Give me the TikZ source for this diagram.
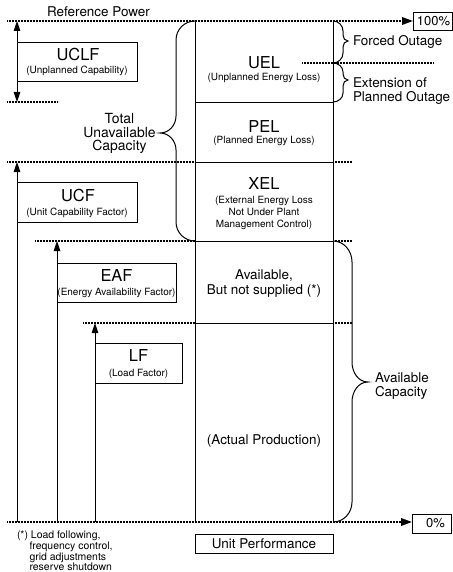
\documentclass[tikz,border=0pt]{standalone}
\usepackage{fontspec}
\setmainfont{TeX Gyre Heros}
\usetikzlibrary{arrows.meta}
\begin{document}
\begin{tikzpicture}[x=1bp,y=-1bp,
  every node/.style={inner sep=0pt, outer sep=0pt},
  rule/.style={line width=0.9bp},
  level/.style={line width=1.9bp, dash pattern=on 1bp off 0.5bp},
  uptip/.style={rule,-{Triangle[length=10bp,width=6.5bp]}},
  bothtips/.style={rule,{Triangle[length=10bp,width=6.5bp]}-{Triangle[length=10bp,width=6.5bp]}},
  endtip/.style={level,-{Triangle[length=11bp,width=7.5bp]}},
  bracket/.style={line width=1bp},
  frame/.style={draw, rule},
  bigT/.style={font=\fontsize{16.5}{18}\selectfont, anchor=base},
  midT/.style={font=\fontsize{13.5}{15}\selectfont, anchor=base},
  midW/.style={font=\fontsize{13.5}{15}\selectfont, anchor=base west},
  capT/.style={font=\fontsize{14}{15}\selectfont, anchor=base},
  smallT/.style={font=\fontsize{10}{12}\selectfont, anchor=base},
  noteT/.style={font=\fontsize{10.5}{12}\selectfont, anchor=base west},
]
\useasboundingbox (0,0) rectangle (453,572);

% ---- end boxes and scale arrows
\node[frame, minimum width=39bp, minimum height=18bp] (full-box) at (432.5,21) {};
\node[font=\fontsize{13}{15}\selectfont] (full) at (433.5,21) {100\%};
\node[frame, minimum width=39bp, minimum height=19bp] (zero-box) at (431.5,523.5) {};
\node[font=\fontsize{13}{15}\selectfont] (zero) at (435.5,523.5) {0\%};

\coordinate (top-l) at (7,21);
\coordinate (bot-l) at (7,522);
\draw[endtip] (top-l) -- (top-l -| full-box.west);
\draw[endtip] (bot-l) -- (bot-l -| zero-box.west);
\node[midT] (refpower) at (98.5,17) {Reference Power};

% ---- energy column
\coordinate (col-tl) at (195,21);
\coordinate (col-tr) at (333,21);
\coordinate (col-bl) at (195,522);
\coordinate (col-br) at (333,522);
\draw[rule] (col-tl) -- (col-bl);
\draw[rule] (col-tr) -- (col-br);

\coordinate (uel-l) at (195,102);  \coordinate (uel-r) at (333,102);
\coordinate (pel-l) at (195,162);  \coordinate (pel-r) at (333,162);
\coordinate (xel-l) at (195,241);  \coordinate (xel-r) at (333,241);
\coordinate (av-l)  at (195,323);  \coordinate (av-r)  at (333,323);
\draw[rule] (uel-l) -- (uel-r);
\draw[rule] (pel-l) -- (pel-r);
\draw[rule] (xel-l) -- (xel-r);
\draw[rule] (av-l) -- (av-r);

% level extensions
\coordinate (uclf-end) at (7,102);   \coordinate (uclf-stop) at (58,102);
\coordinate (ucf-end) at (7,162);
\coordinate (eaf-end) at (35,241);
\coordinate (lf-end) at (83,323);
\coordinate (pel-x) at (352,162);
\coordinate (xel-x) at (352,241);
\coordinate (av-x) at (352,323);
\coordinate (fo-a) at (302,63);  \coordinate (fo-b) at (433,63);
\draw[level] (uclf-end) -- (uclf-stop);
\draw[level] (ucf-end) -- (pel-l);
\draw[level] (eaf-end) -- (xel-l);
\draw[level] (lf-end) -- (av-l);
\draw[level] (pel-r) -- (pel-x);
\draw[level] (xel-r) -- (xel-x);
\draw[level] (av-r) -- (av-x);
\draw[level] (fo-a) -- (fo-b);

% column texts
\node[bigT] (uel) at (264,68.5) {UEL};
\node[smallT] (uel-sub) at (264,80.5) {(Unplanned Energy Loss)};
\node[bigT] (pel) at (264,132.5) {PEL};
\node[smallT] (pel-sub) at (264,143.5) {(Planned Energy Loss)};
\node[bigT] (xel) at (264,189.5) {XEL};
\node[smallT] (xel-sub1) at (264,203) {(External Energy Loss};
\node[smallT] (xel-sub2) at (264,215) {Not Under Plant};
\node[smallT] (xel-sub3) at (264,227) {Management Control)};
\node[midT] (avail1) at (264,279) {Available,};
\node[midT] (avail2) at (264,294) {But not supplied (*)};
\node[midT] (actual) at (264,444.5) {(Actual Production)};
\node[frame, minimum width=138bp, minimum height=19bp,
      font=\fontsize{13.5}{15}\selectfont] (unitperf) at (264,543.5) {Unit Performance};

% ---- factor boxes
\node[frame, minimum width=120bp, minimum height=39bp] (uclf-box) at (77,61.5) {};
\node[bigT] (uclf) at (78,61) {UCLF};
\node[smallT] (uclf-sub) at (77,73.5) {(Unplanned Capability)};

\node[frame, minimum width=120bp, minimum height=40bp] (ucf-box) at (77,202) {};
\node[bigT] (ucf) at (78,201.5) {UCF};
\node[smallT] (ucf-sub) at (77,215) {(Unit Capability Factor)};

\node[frame, minimum width=119bp, minimum height=39bp] (eaf-box) at (116.5,282.5) {};
\node[bigT] (eaf) at (116.5,281.5) {EAF};
\node[smallT] (eaf-sub) at (116.5,295) {(Energy Availability Factor)};

\node[frame, minimum width=87bp, minimum height=40bp] (lf-box) at (138.5,363) {};
\node[bigT] (lf) at (138.5,361.5) {LF};
\node[smallT] (lf-sub) at (138.5,376) {(Load Factor)};

% factor arrows
\coordinate (uclf-top) at (17,21);
\coordinate (uclf-bot) at (17,102);
\draw[bothtips] (uclf-top) -- (uclf-bot);
\coordinate (ucf-foot) at (17,522);  \coordinate (ucf-head) at (17,162);
\coordinate (eaf-foot) at (57,522);  \coordinate (eaf-head) at (57,241);
\coordinate (lf-foot) at (95,522);   \coordinate (lf-head) at (95,323);
\draw[uptip] (ucf-foot) -- (ucf-head);
\draw[uptip] (eaf-foot) -- (eaf-head);
\draw[uptip] (lf-foot) -- (lf-head);

% ---- total unavailable capacity bracket
\draw[bracket] (col-tl) to[out=180,in=90] (176,40) -- (176,116)
  to[out=-90,in=0] (160,133) to[out=0,in=90] (176,150) -- (176,222)
  to[out=-90,in=180] (xel-l);
\node[capT] (tot1) at (119.5,124) {Total};
\node[capT] (tot2) at (119.5,137.5) {Unavailable};
\node[capT] (tot3) at (119.5,150.5) {Capacity};

% ---- outage brackets
\draw[bracket] (col-tr) to[out=0,in=90] (343,31) -- (343,35)
  to[out=-90,in=180] (348,41) to[out=180,in=90] (343,47) -- (343,53)
  to[out=-90,in=0] (333,63);
\draw[bracket] (333,63) to[out=0,in=90] (343,72) -- (343,74)
  to[out=-90,in=180] (348,80) to[out=180,in=90] (343,86) -- (343,93)
  to[out=-90,in=0] (uel-r);
\node[midW] (forced) at (353,46) {Forced Outage};
\node[midW] (ext1) at (353,87.5) {Extension of};
\node[midW] (ext2) at (353,101.5) {Planned Outage};

% ---- available capacity bracket
\draw[bracket] (xel-r) to[out=0,in=90] (352,262) -- (352,362)
  to[out=-90,in=180] (368,382) to[out=180,in=90] (352,402) -- (352,502)
  to[out=-90,in=0] (col-br);
\node[midW] (avcap1) at (375,382) {Available};
\node[midW] (avcap2) at (375,396.5) {Capacity};

% ---- footnote
\node[noteT] (note1) at (17,538.5) {(*) Load following,};
\node[noteT] (note2) at (29.5,549.5) {frequency control,};
\node[noteT] (note3) at (29.5,560) {grid adjustments};
\node[noteT] (note4) at (29.5,570.5) {reserve shutdown};
\end{tikzpicture}
\end{document}
